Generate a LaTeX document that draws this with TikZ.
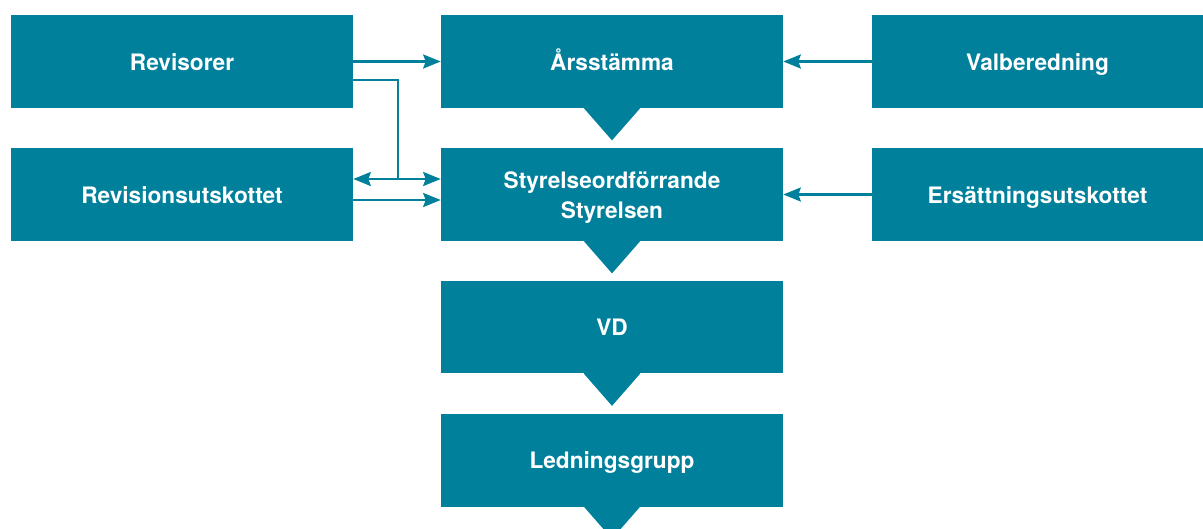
\documentclass[tikz,border=0pt]{standalone}
\usepackage{fontspec}
\setmainfont{TeX Gyre Heros}
\usetikzlibrary{arrows.meta}
\definecolor{petrol}{RGB}{0,128,155}
\begin{document}
\begin{tikzpicture}[x=0.02cm, y=-0.02cm, >={Stealth[length=0.35cm, width=0.28cm, inset=0.05cm]},
    every node/.style={rectangle, fill=petrol, text=white, minimum width=6.84cm, minimum height=1.86cm, align=center, text height=0.4cm, text depth=0.06cm, font=\bfseries\fontsize{12.9}{17}\selectfont},
    pointer/.style={fill=petrol, draw=none},
    link/.style={->, draw=petrol, line width=1.4pt}]
    \clip (0,0) rectangle (1203,528);
    \useasboundingbox (0,0) rectangle (1203,528);

        % Left column.
        \node (rev) at (182,61.5) {Revisorer};
        \node (revu) at (182,194.5) {Revisionsutskottet};

        % Middle column.
        \node (ars) at (612,61.5) {Årsstämma};
        \node[text height=1.0cm] (styr) at (612,194.5) {Styrelseordförrande\\Styrelsen};
        \node (vd) at (612,327) {VD};
        \node (led) at (612,460) {Ledningsgrupp};

        % Right column.
        \node[minimum width=6.62cm] (val) at (1037.5,61.5) {Valberedning};
        \node[minimum width=6.62cm] (ers) at (1037.5,194.5) {Ersättningsutskottet};

        % Pointers under the middle column.
        \foreach \n in {ars,styr,vd,led}
            \fill[pointer] (\n.south) ++(-28,-2) -- ++(56,0) -- ++(0,2) -- ++(-28,32) -- ++(-28,-32) -- cycle;

        % Revisors.
        \coordinate (split) at (398,179);
        \draw[link] (rev.east) -- (ars.west);
        \draw[link, -] ([yshift=-0.37cm]rev.east) -| (split);
        \draw[link] (split) -- (revu.east |- split);
        \draw[link] (split) -- (styr.west |- split);
        \draw[link] ([yshift=-0.11cm]revu.east) -- ([yshift=-0.11cm]styr.west);

        % Committees on the right.
        \draw[link] (val.west) -- (ars.east);
        \draw[link] (ers.west) -- (styr.east);

    \end{tikzpicture}
\end{document}
